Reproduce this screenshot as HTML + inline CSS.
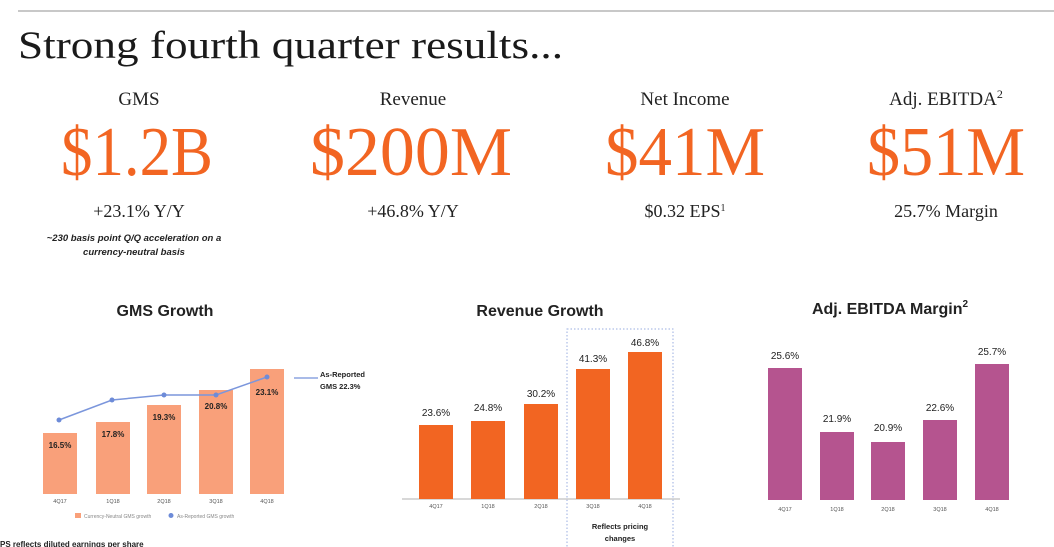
<!DOCTYPE html>
<html><head><meta charset="utf-8"><style>
html,body{margin:0;padding:0;background:#fff;}
svg{display:block}
</style></head><body>
<svg width="1054" height="547" xmlns="http://www.w3.org/2000/svg">
<line x1="18" y1="11" x2="1054" y2="11" stroke="#c8c8c8" stroke-width="2"/>
<text x="18" y="58" font-family="Liberation Serif, serif" font-size="39" fill="#1a1a1a" textLength="545" lengthAdjust="spacingAndGlyphs">Strong fourth quarter results...</text>
<g font-family="Liberation Serif, serif" text-anchor="middle">
<text x="139" y="105" font-size="19" fill="#222">GMS</text>
<text x="413" y="105" font-size="19" fill="#222">Revenue</text>
<text x="685" y="105" font-size="19" fill="#222">Net Income</text>
<text x="946" y="105" font-size="19" fill="#222">Adj. EBITDA<tspan font-size="12" dy="-7">2</tspan></text>
<g font-size="70" fill="#f26522">
<text x="137" y="175" textLength="152" lengthAdjust="spacingAndGlyphs">$1.2B</text>
<text x="411" y="175" textLength="202" lengthAdjust="spacingAndGlyphs">$200M</text>
<text x="685" y="175" textLength="160" lengthAdjust="spacingAndGlyphs">$41M</text>
<text x="946" y="175" textLength="158" lengthAdjust="spacingAndGlyphs">$51M</text>
</g>
<g font-size="18" fill="#222">
<text x="139" y="217">+23.1% Y/Y</text>
<text x="413" y="217">+46.8% Y/Y</text>
<text x="685" y="217">$0.32 EPS<tspan font-size="10" dy="-6">1</tspan></text>
<text x="946" y="217">25.7% Margin</text>
</g>
</g>
<g font-family="Liberation Sans, sans-serif" font-style="italic" font-weight="bold" font-size="9.5" fill="#222" text-anchor="middle">
<text x="134" y="241">~230 basis point Q/Q acceleration on a</text>
<text x="134" y="255">currency-neutral basis</text>
</g>
<g font-family="Liberation Sans, sans-serif" font-weight="bold" text-anchor="middle" fill="#222" font-size="16">
<text x="165" y="316">GMS Growth</text>
<text x="540" y="316">Revenue Growth</text>
<text x="890" y="314">Adj. EBITDA Margin<tspan font-size="10" dy="-7">2</tspan></text>
</g>
<!-- GMS -->
<g fill="#f9a07a">
<rect x="43" y="433" width="34" height="61"/>
<rect x="96" y="422" width="34" height="72"/>
<rect x="147" y="405" width="34" height="89"/>
<rect x="199" y="390" width="34" height="104"/>
<rect x="250" y="369" width="34" height="125"/>
</g>
<g font-family="Liberation Sans, sans-serif" font-weight="bold" font-size="8" fill="#222" text-anchor="middle">
<text x="60" y="448">16.5%</text>
<text x="113" y="437">17.8%</text>
<text x="164" y="420">19.3%</text>
<text x="216" y="409">20.8%</text>
<text x="267" y="395">23.1%</text>
</g>
<polyline points="59,420 112,400 164,395 216,395 267,377" fill="none" stroke="#7b96dc" stroke-width="1.5"/>
<g fill="#6d8bd8"><circle cx="59" cy="420" r="2.5"/><circle cx="112" cy="400" r="2.5"/><circle cx="164" cy="395" r="2.5"/><circle cx="216" cy="395" r="2.5"/><circle cx="267" cy="377" r="2.5"/></g>
<line x1="294" y1="378" x2="318" y2="378" stroke="#a9bbe8" stroke-width="2"/>
<g font-family="Liberation Sans, sans-serif" font-weight="bold" font-size="7.5" fill="#222">
<text x="320" y="377">As-Reported</text><text x="320" y="389">GMS 22.3%</text>
</g>
<g font-family="Liberation Sans, sans-serif" font-size="5.5" fill="#555" text-anchor="middle">
<text x="60" y="503">4Q17</text><text x="113" y="503">1Q18</text><text x="164" y="503">2Q18</text><text x="216" y="503">3Q18</text><text x="267" y="503">4Q18</text>
</g>
<rect x="75" y="513" width="6" height="5" fill="#f9a07a"/>
<text x="84" y="518" font-family="Liberation Sans, sans-serif" font-size="5" fill="#888">Currency-Neutral GMS growth</text>
<circle cx="171" cy="515.5" r="2.5" fill="#6d8bd8"/>
<text x="177" y="518" font-family="Liberation Sans, sans-serif" font-size="5" fill="#888">As-Reported GMS growth</text>
<text x="0" y="547" font-family="Liberation Sans, sans-serif" font-weight="bold" font-size="8" fill="#222">PS reflects diluted earnings per share</text>
<!-- Revenue -->
<rect x="567" y="329" width="106" height="225" fill="none" stroke="#9aaee0" stroke-width="1" stroke-dasharray="1.5,2"/>
<line x1="402" y1="499" x2="680" y2="499" stroke="#ccc" stroke-width="1.5"/>
<g fill="#f26522">
<rect x="419" y="425" width="34" height="74"/>
<rect x="471" y="421" width="34" height="78"/>
<rect x="524" y="404" width="34" height="95"/>
<rect x="576" y="369" width="34" height="130"/>
<rect x="628" y="352" width="34" height="147"/>
</g>
<g font-family="Liberation Sans, sans-serif" font-size="10" fill="#222" text-anchor="middle">
<text x="436" y="416">23.6%</text><text x="488" y="411">24.8%</text><text x="541" y="397">30.2%</text><text x="593" y="362">41.3%</text><text x="645" y="346">46.8%</text>
</g>
<g font-family="Liberation Sans, sans-serif" font-size="5.5" fill="#555" text-anchor="middle">
<text x="436" y="508">4Q17</text><text x="488" y="508">1Q18</text><text x="541" y="508">2Q18</text><text x="593" y="508">3Q18</text><text x="645" y="508">4Q18</text>
</g>
<g font-family="Liberation Sans, sans-serif" font-weight="bold" font-size="7.5" fill="#222" text-anchor="middle">
<text x="620" y="529">Reflects pricing</text><text x="620" y="541">changes</text>
</g>
<!-- EBITDA -->
<g fill="#b5548f">
<rect x="768" y="368" width="34" height="132"/>
<rect x="820" y="432" width="34" height="68"/>
<rect x="871" y="442" width="34" height="58"/>
<rect x="923" y="420" width="34" height="80"/>
<rect x="975" y="364" width="34" height="136"/>
</g>
<g font-family="Liberation Sans, sans-serif" font-size="10" fill="#222" text-anchor="middle">
<text x="785" y="359">25.6%</text><text x="837" y="422">21.9%</text><text x="888" y="431">20.9%</text><text x="940" y="411">22.6%</text><text x="992" y="355">25.7%</text>
</g>
<g font-family="Liberation Sans, sans-serif" font-size="5.5" fill="#555" text-anchor="middle">
<text x="785" y="511">4Q17</text><text x="837" y="511">1Q18</text><text x="888" y="511">2Q18</text><text x="940" y="511">3Q18</text><text x="992" y="511">4Q18</text>
</g>
</svg>
</body></html>
